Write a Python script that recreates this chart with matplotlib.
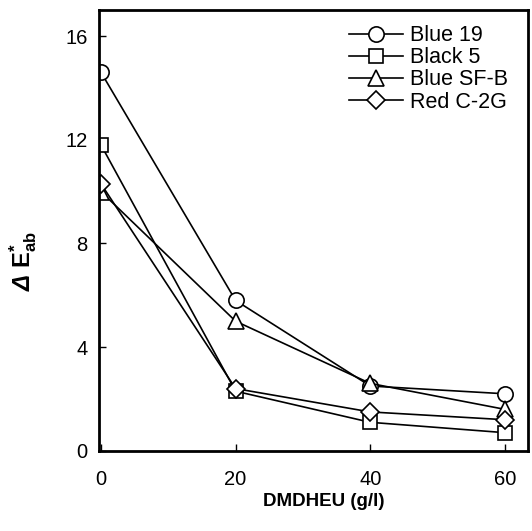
import numpy as np
import matplotlib.pyplot as plt

plt.rcParams['font.family'] = ['Liberation Sans', 'DejaVu Sans']
plt.rcParams['mathtext.fontset'] = 'custom'
plt.rcParams['mathtext.rm'] = 'Liberation Sans:bold'
plt.rcParams['mathtext.it'] = 'Liberation Sans:italic:bold'
plt.rcParams['mathtext.bf'] = 'Liberation Sans:bold'

dmdheu = [0, 20, 40, 60]
blue19 = [14.6, 5.8, 2.5, 2.2]
black5 = [11.8, 2.3, 1.1, 0.7]
blue_sfb = [10.0, 5.0, 2.6, 1.6]
red_c2g = [10.3, 2.4, 1.5, 1.2]

names = ['Blue 19', 'Black 5', 'Blue SF-B', 'Red C-2G']
markers = ['o', 's', '^', 'D']
sizes = [11, 10, 11, 9]

fig = plt.figure(figsize=(5.32, 5.31), dpi=100)
ax = fig.add_axes([0.186, 0.151, 0.806, 0.83])

for y, n, m, s in zip([blue19, black5, blue_sfb, red_c2g], names, markers, sizes):
    ax.plot(dmdheu, y, color='black', lw=1.2, marker=m, ms=s,
            mfc='white', mec='black', mew=1.2, label=n)

ax.set_xlim(-0.3, 63.4)
ax.set_ylim(0, 17)
ax.set_xticks([0, 20, 40, 60])
ax.set_yticks([0, 4, 8, 12, 16])
ax.tick_params(direction='in', length=5, width=1, labelsize=14.5)
ax.tick_params(axis='x', pad=14)
ax.tick_params(axis='y', pad=8)
for sp in ax.spines.values():
    sp.set_linewidth(2)

ax.set_xlabel('DMDHEU (g/l)', fontsize=13.5, fontweight='bold')
ax.xaxis.set_label_coords(0.525, -0.095)
ax.set_ylabel(r'Δ $\mathbf{E}^{*}_{\mathbf{ab}}$', fontsize=17,
              fontstyle='italic', fontweight='bold')
ax.yaxis.set_label_coords(-0.14, 0.43)

ax.legend(loc='upper right', bbox_to_anchor=(0.973, 0.985), borderaxespad=0,
          frameon=False, fontsize=15.5, handlelength=2.5,
          handletextpad=0.3, labelspacing=0.05)

fig.savefig('out.png', dpi=100)
